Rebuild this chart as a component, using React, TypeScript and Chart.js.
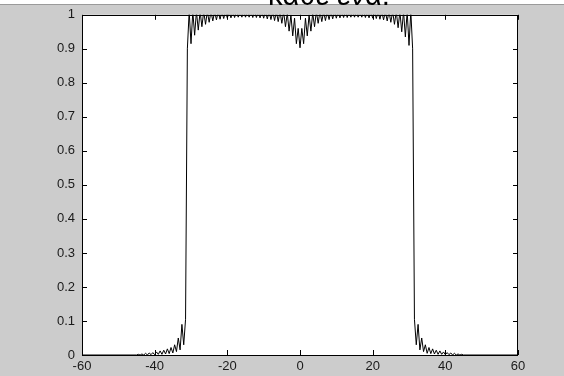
import React, { useEffect, useRef } from "react";
import { Chart, registerables } from "chart.js";

Chart.register(...registerables);

const TITLE = "κάθε ένα.";

const xTicks = [-60, -40, -20, 0, 20, 40, 60];
const xTickLabels = ["-60", "-40", "-20", "0", "20", "40", "60"];
const yTicks = [0, 0.1, 0.2, 0.3, 0.4, 0.5, 0.6, 0.7, 0.8, 0.9, 1];
const yTickLabels = ["0", "0.1", "0.2", "0.3", "0.4", "0.5", "0.6", "0.7", "0.8", "0.9", "1"];

const xs = [
  -60,
  -45, -44.5, -44, -43.5, -43, -42.5, -42, -41.5, -41, -40.5, -40, -39.5, -39, -38.5,
  -38, -37.5, -37, -36.5, -36, -35.5, -35, -34.5, -34, -33.5, -33, -32.5, -32, -31.5,
  -31, -30.5, -30, -29.5, -29, -28.5, -28, -27.5, -27, -26.5, -26, -25.5, -25, -24.5,
  -24, -23.5, -23, -22.5, -22, -21.5, -21, -20.5, -20, -19.5, -19, -18.5, -18, -17.5,
  -17, -16.5, -16, -15.5, -15, -14.5, -14, -13.5, -13, -12.5, -12, -11.5, -11, -10.5,
  -10, -9.5, -9, -8.5, -8, -7.5, -7, -6.5,
  -6, -5.5, -5, -4.5, -4, -3.5, -3, -2.5, -2, -1.5, -1, -0.5, 0, 0.5, 1, 1.5, 2, 2.5,
  3, 3.5, 4, 4.5, 5, 5.5, 6,
  6.5, 7, 7.5, 8, 8.5, 9, 9.5, 10, 10.5, 11, 11.5, 12, 12.5, 13, 13.5, 14, 14.5, 15,
  15.5, 16, 16.5, 17, 17.5, 18, 18.5, 19, 19.5, 20, 20.5, 21, 21.5, 22, 22.5, 23, 23.5,
  24, 24.5, 25, 25.5, 26, 26.5, 27, 27.5, 28, 28.5, 29, 29.5, 30, 30.5, 31,
  31.5, 32, 32.5, 33, 33.5, 34, 34.5, 35, 35.5, 36, 36.5, 37, 37.5, 38, 38.5, 39, 39.5,
  40, 40.5, 41, 41.5, 42, 42.5, 43, 43.5, 44, 44.5, 45,
  60,
];

const ys = [
  0,
  0, 0.002, 0, 0.003, 0, 0.005, 0, 0.006, 0.001, 0.007, 0.001, 0.009, 0.002, 0.012,
  0.002, 0.014, 0.003, 0.018, 0.004, 0.022, 0.006, 0.03, 0.01, 0.05, 0.015, 0.09, 0.03, 0.105,
  0.9, 1.01, 0.915, 1.01, 0.94, 1.01, 0.955, 1.01, 0.965, 1.01, 0.972, 1.01, 0.978, 1.01,
  0.982, 1.01, 0.985, 1.01, 0.987, 1.01, 0.989, 1.01, 0.99, 1.01, 0.991, 1.01, 0.992, 1.01,
  0.993, 1.01, 0.993, 1.01, 0.993, 1.01, 0.993, 1.01, 0.992, 1.01, 0.992, 1.01, 0.991, 1.01,
  0.99, 1.01, 0.988, 1.01, 0.986, 1.01, 0.983, 1.01,
  0.98, 1.01, 0.975, 1.01, 0.965, 1.005, 0.952, 1.0, 0.938, 0.99, 0.915, 0.96, 0.903, 0.96, 0.915, 0.99, 0.938, 1.0,
  0.952, 1.005, 0.965, 1.01, 0.975, 1.01, 0.98,
  1.01, 0.983, 1.01, 0.986, 1.01, 0.988, 1.01, 0.99, 1.01, 0.991, 1.01, 0.992, 1.01, 0.992, 1.01, 0.993, 1.01, 0.993,
  1.01, 0.993, 1.01, 0.993, 1.01, 0.992, 1.01, 0.991, 1.01, 0.99, 1.01, 0.989, 1.01, 0.987, 1.01, 0.985, 1.01,
  0.982, 1.01, 0.978, 1.01, 0.972, 1.01, 0.962, 1.01, 0.95, 1.01, 0.935, 1.01, 0.91, 1.01, 0.9,
  0.105, 0.03, 0.09, 0.015, 0.05, 0.01, 0.03, 0.005, 0.022, 0.004, 0.018, 0.003, 0.014, 0.002, 0.012, 0.002, 0.009,
  0.001, 0.007, 0.001, 0.006, 0, 0.005, 0, 0.003, 0, 0.002, 0,
  0,
];

const W = 564;
const H = 376;
const FONT = "'Liberation Sans', Arial, sans-serif";

const backgroundPlugin = {
  id: "figBackground",
  beforeDraw(chart: any) {
    const ctx = chart.ctx;
    ctx.save();
    ctx.fillStyle = "#ffffff";
    ctx.fillRect(0, 0, W, H);
    ctx.fillStyle = "#cccccc";
    ctx.fillRect(0, 4, W, H - 4);
    ctx.fillStyle = "#9a9a9a";
    ctx.fillRect(0, 4, W, 1);
    const a = chart.chartArea;
    ctx.fillStyle = "#ffffff";
    ctx.fillRect(a.left, a.top, a.right - a.left, a.bottom - a.top);
    ctx.restore();
  },
};

const framePlugin = {
  id: "figFrame",
  afterDraw(chart: any) {
    const ctx = chart.ctx;
    const a = chart.chartArea;
    const xs_ = chart.scales.x;
    const ys_ = chart.scales.y;
    ctx.save();
    ctx.strokeStyle = "#000000";
    ctx.lineWidth = 1;
    ctx.strokeRect(Math.round(a.left) + 0.5, Math.round(a.top) + 0.5, Math.round(a.right - a.left) - 1, Math.round(a.bottom - a.top));
    const L = 5;
    ctx.beginPath();
    for (const v of xTicks) {
      const px = Math.round(xs_.getPixelForValue(v)) + 0.5;
      ctx.moveTo(px, a.bottom);
      ctx.lineTo(px, a.bottom - L);
      ctx.moveTo(px, a.top);
      ctx.lineTo(px, a.top + L);
    }
    for (const v of yTicks) {
      const py = Math.round(ys_.getPixelForValue(v)) + 0.5;
      ctx.moveTo(a.left, py);
      ctx.lineTo(a.left + L, py);
      ctx.moveTo(a.right, py);
      ctx.lineTo(a.right - L, py);
    }
    ctx.stroke();

    // title (partially outside the top of the picture)
    let size = 28;
    ctx.font = `${size}px ${FONT}`;
    const w = ctx.measureText(TITLE).width;
    size = (size * 122) / w;
    ctx.font = `${size}px ${FONT}`;
    ctx.fillStyle = "#000000";
    ctx.textAlign = "center";
    ctx.textBaseline = "alphabetic";
    ctx.fillText(TITLE, 329, 5);
    ctx.restore();
  },
};

export default function App() {
  const ref = useRef<HTMLCanvasElement | null>(null);
  useEffect(() => {
    if (!ref.current) return;
    const chart = new Chart(ref.current, {
      type: "line",
      data: {
        datasets: [
          {
            data: xs.map((x, i) => ({ x, y: ys[i] })),
            borderColor: "#000000",
            borderWidth: 1,
            pointRadius: 0,
            tension: 0,
            fill: false,
            clip: 0,
          } as any,
        ],
      },
      options: {
        animation: false,
        responsive: false,
        maintainAspectRatio: false,
        layout: { padding: { top: 14, right: 46, left: 0, bottom: 0 } },
        plugins: { legend: { display: false }, tooltip: { enabled: false }, title: { display: false } },
        scales: {
          x: {
            type: "linear",
            min: -60,
            max: 60,
            afterBuildTicks: (s: any) => {
              s.ticks = xTicks.map((v) => ({ value: v }));
            },
            afterFit: (s: any) => {
              s.height = 21;
            },
            grid: { display: false, drawTicks: false },
            border: { display: false },
            ticks: {
              color: "#1a1a1a",
              font: { family: FONT, size: 13 },
              padding: 4,
              maxRotation: 0,
              autoSkip: false,
              callback: (v: any) => xTickLabels[xTicks.indexOf(Number(v))] ?? "",
            },
          },
          y: {
            type: "linear",
            min: 0,
            max: 1,
            afterBuildTicks: (s: any) => {
              s.ticks = yTicks.map((v) => ({ value: v }));
            },
            afterFit: (s: any) => {
              s.width = 82;
            },
            grid: { display: false, drawTicks: false },
            border: { display: false },
            ticks: {
              color: "#1a1a1a",
              font: { family: FONT, size: 13 },
              padding: 7,
              autoSkip: false,
              callback: (v: any) => {
                const i = yTicks.findIndex((t) => Math.abs(t - Number(v)) < 1e-9);
                return i >= 0 ? yTickLabels[i] : "";
              },
            },
          },
        },
      },
      plugins: [backgroundPlugin, framePlugin],
    });
    return () => chart.destroy();
  }, []);
  return (
    <div style={{ position: "fixed", left: 0, top: 0, width: W, height: H }}>
      <canvas ref={ref} width={W} height={H} style={{ display: "block", width: W, height: H }} />
    </div>
  );
}
